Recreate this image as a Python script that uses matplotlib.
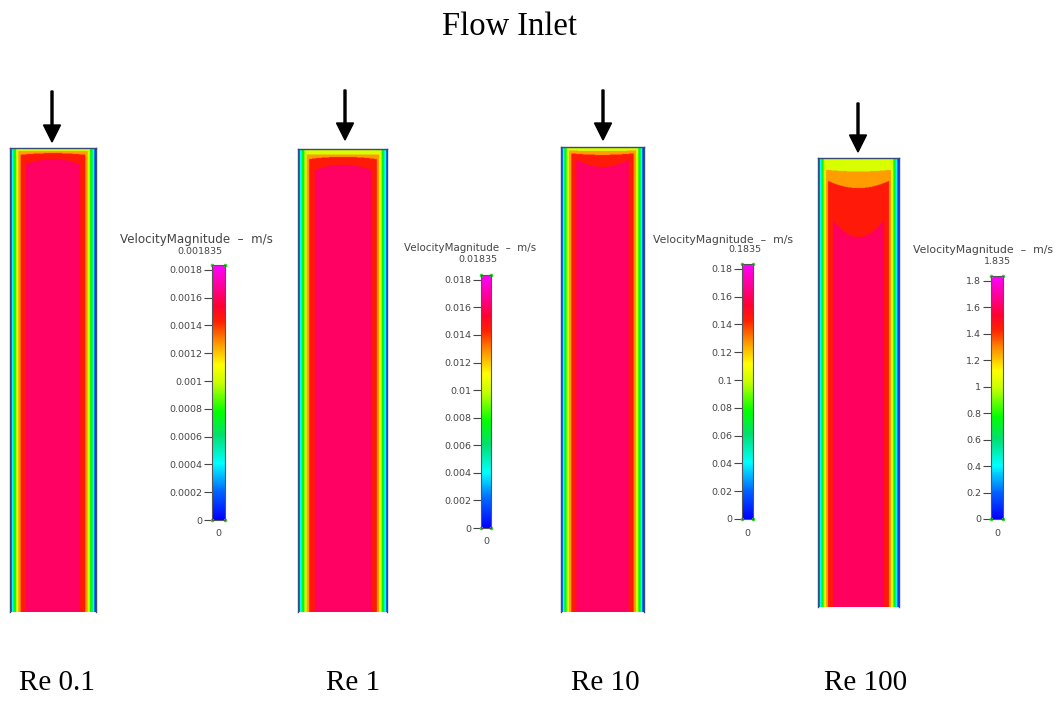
import numpy as np
import matplotlib
matplotlib.use("Agg")
import matplotlib.pyplot as plt
from matplotlib.colors import LinearSegmentedColormap, Normalize
from matplotlib.cm import ScalarMappable

W, H = 1064, 719

re_labels = ["Re 0.1", "Re 1", "Re 10", "Re 100"]
v_max = [0.001835, 0.01835, 0.1835, 1.835]

cbar_ticks = [
    [0, 0.0002, 0.0004, 0.0006, 0.0008, 0.001, 0.0012, 0.0014, 0.0016, 0.0018],
    [0, 0.002, 0.004, 0.006, 0.008, 0.01, 0.012, 0.014, 0.016, 0.018],
    [0, 0.02, 0.04, 0.06, 0.08, 0.1, 0.12, 0.14, 0.16, 0.18],
    [0, 0.2, 0.4, 0.6, 0.8, 1, 1.2, 1.4, 1.6, 1.8],
]
cbar_ticklabels = [
    ["0", "0.0002", "0.0004", "0.0006", "0.0008", "0.001", "0.0012", "0.0014", "0.0016", "0.0018"],
    ["0", "0.002", "0.004", "0.006", "0.008", "0.01", "0.012", "0.014", "0.016", "0.018"],
    ["0", "0.02", "0.04", "0.06", "0.08", "0.1", "0.12", "0.14", "0.16", "0.18"],
    ["0", "0.2", "0.4", "0.6", "0.8", "1", "1.2", "1.4", "1.6", "1.8"],
]

# contour bands (fraction of v_max), wall -> core: blue, cyan, green, yellow, orange, red, core
band_value = [0.06, 0.22, 0.40, 0.56, 0.69, 0.79, 0.875]
# where each band starts, as a fraction of the channel width measured from the wall
band_wall_start = [0.0, 0.02, 0.04, 0.07, 0.097, 0.125, 0.186]

# developing zone under the inlet: centreline depth (fraction of channel length)
# at which the yellow / orange / red zones end, and how much each edge bends
inlet_depth = [
    [0.006, 0.011, 0.024],
    [0.012, 0.017, 0.034],
    [0.011, 0.019, 0.045],
    [0.030, 0.067, 0.176],
]
inlet_sag = [
    [0.0, -0.6, -1.2],
    [0.0, -0.5, -0.9],
    [0.2, 0.3, 0.9],
    [0.2, 0.43, 0.55],
]

# layout in pixels
channel_box = [(10, 96, 148, 612), (298, 387, 149, 612), (561, 644, 147, 612), (818, 899, 158, 607)]
cbar_box = [(212, 225, 265, 520), (481, 491, 275, 528), (742, 753, 264, 519), (991, 1003, 276, 519)]
cbar_title_xy = [(196, 240), (470, 248), (723, 240), (983, 250)]
cbar_max_xy = [(200, 251), (478, 260), (745, 250), (997, 262)]
cbar_title_size = [8.6, 7.4, 7.8, 7.8]
arrow_x = [52, 345, 603, 858]
arrow_top = [91, 90, 90, 103]
arrow_tip = [142, 140, 140, 152]
label_x = [57, 353, 605, 866]
label_base = [690, 690, 690, 690]

cmap = LinearSegmentedColormap.from_list("velocity", [
    (0.00, "#0000ff"), (0.11, "#0064ff"), (0.22, "#00ffff"), (0.33, "#00e070"),
    (0.42, "#00ff00"), (0.54, "#c8ff00"), (0.61, "#ffff00"), (0.70, "#ff9000"),
    (0.78, "#ff2000"), (0.84, "#ff0030"), (0.90, "#ff0080"), (1.00, "#ff00ff")])


def px_rect(x0, x1, y0, y1):
    return [x0 / W, 1 - y1 / H, (x1 - x0) / W, (y1 - y0) / H]


def channel_levels(nx, ny, depth, sag):
    x = (np.arange(nx) + 0.5) / nx
    y = (np.arange(ny) + 0.5) / ny
    X, Y = np.meshgrid(x, y)
    wall = np.minimum(X, 1 - X)
    side = np.searchsorted(band_wall_start, wall, side="right") - 1
    xn = np.abs(2 * X - 1)
    top = np.full(X.shape, 3)
    for d, s in zip(depth, sag):
        edge = d * np.clip(1 - s * xn ** 2, 0.05, None)
        top += (Y > edge)
    return np.minimum(side, top)


fig = plt.figure(figsize=(W / 100, H / 100), dpi=100)
ov = fig.add_axes([0, 0, 1, 1])
ov.set_xlim(0, W)
ov.set_ylim(H, 0)
ov.axis("off")

serif = "Liberation Serif"
ov.text(509, 35, "Flow Inlet", ha="center", va="baseline", fontsize=23.5, family=serif)

for i in range(4):
    # channel contour
    x0, x1, y0, y1 = channel_box[i]
    ax = fig.add_axes(px_rect(x0, x1, y0, y1))
    lev = channel_levels((x1 - x0) * 3, (y1 - y0) * 2, inlet_depth[i], inlet_sag[i])
    field = np.array(band_value)[lev] * v_max[i]
    norm = Normalize(0, v_max[i])
    ax.imshow(field, cmap=cmap, norm=norm, aspect="auto", interpolation="antialiased")
    ax.set_xticks([])
    ax.set_yticks([])
    for side in ["left", "right", "top"]:
        ax.spines[side].set_color("#3a4a78")
        ax.spines[side].set_linewidth(1.0)
    ax.spines["bottom"].set_visible(False)

    # legend bar
    bx0, bx1, by0, by1 = cbar_box[i]
    cax = fig.add_axes(px_rect(bx0, bx1, by0, by1))
    cb = fig.colorbar(ScalarMappable(norm=norm, cmap=cmap), cax=cax)
    cb.set_ticks(cbar_ticks[i], labels=cbar_ticklabels[i])
    cax.yaxis.set_ticks_position("left")
    cax.tick_params(length=6, width=0.8, pad=1, labelsize=6.8, colors="#444444")
    cb.outline.set_edgecolor("#555555")
    cb.outline.set_linewidth(0.8)
    cax.plot([0, 1, 0, 1], [0, 0, 1, 1], "o", transform=cax.transAxes, ms=2.6,
             color="#38d038", mec="none", clip_on=False)

    tx, ty = cbar_title_xy[i]
    ov.text(tx, ty, "VelocityMagnitude  \u2013  m/s", ha="center", va="center",
            fontsize=cbar_title_size[i], color="#444444")
    mx, my = cbar_max_xy[i]
    ov.text(mx, my, f"{v_max[i]:g}", ha="center", va="center", fontsize=6.8, color="#444444")
    ov.text((bx0 + bx1) / 2, by1 + 14, "0", ha="center", va="center", fontsize=6.8, color="#444444")

    # inlet arrow
    ov.arrow(arrow_x[i], arrow_top[i], 0, arrow_tip[i] - arrow_top[i], width=2,
             head_width=17, head_length=17, length_includes_head=True, color="black")

    ov.text(label_x[i], label_base[i], re_labels[i], ha="center", va="baseline",
            fontsize=21, family=serif)

fig.savefig("out.png", dpi=100)
